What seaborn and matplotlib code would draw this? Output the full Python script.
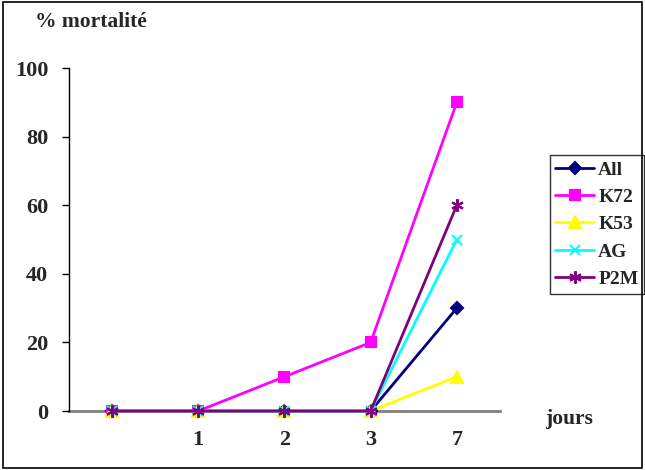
import numpy as np
import pandas as pd
import matplotlib
matplotlib.use("Agg")
import matplotlib.pyplot as plt
from matplotlib.patches import Rectangle
import seaborn as sns

# jours (first point has no label)
jours = ["", "1", "2", "3", "7"]
all_ = [0, 0, 0, 0, 30]
k72 = [0, 0, 10, 20, 90]
k53 = [0, 0, 0, 0, 10]
ag = [0, 0, 0, 0, 50]
p2m = [0, 0, 0, 0, 60]

series = {"All": all_, "K72": k72, "K53": k53, "AG": ag, "P2M": p2m}
colours = {"All": "#000080", "K72": "#FF00FF", "K53": "#FFFF00",
           "AG": "#00FFFF", "P2M": "#800080"}
markers = {"All": "D", "K72": "s", "K53": "^", "AG": "x", "P2M": (6, 2, 0)}
sizes = {"All": 6, "K72": 7, "K53": 8, "AG": 7, "P2M": 9}

rows = []
for name, vals in series.items():
    for i, v in enumerate(vals):
        rows.append([name, i, v])
df = pd.DataFrame(rows, columns=["serie", "pos", "val"])

sns.set_style("white")
plt.rcParams['font.family'] = ['Liberation Serif', 'DejaVu Serif']
plt.rcParams['font.weight'] = 'bold'

fig = plt.figure(figsize=(6.45, 4.70), dpi=100)
ax = fig.add_axes([0.107, 0.1255, 0.668, 0.7295])

for name in series:
    sub = df[df.serie == name]
    sns.lineplot(data=sub, x="pos", y="val", ax=ax, color=colours[name],
                 marker=markers[name], markersize=sizes[name],
                 markeredgecolor=colours[name], markeredgewidth=1.5,
                 linewidth=2, label=name, clip_on=False)

ax.set_xlim(-0.5, 4.5)
ax.set_ylim(0, 100)
ax.set_xticks(range(len(jours)))
ax.set_xticklabels(jours, fontsize=16, fontweight='bold')
ax.set_yticks(np.arange(0, 101, 20))
ax.set_yticklabels([str(v) for v in range(0, 101, 20)], fontsize=16, fontweight='bold')
ax.tick_params(axis='x', length=0, pad=14)
ax.tick_params(axis='y', left=True, length=5, width=1, color='black', pad=10)
ax.set_xlabel("")
ax.set_ylabel("")
for s in ["top", "right"]:
    ax.spines[s].set_visible(False)
ax.spines["left"].set_color("black")
ax.spines["left"].set_linewidth(1)
ax.spines["bottom"].set_color("#808080")
ax.spines["bottom"].set_linewidth(2)
ax.spines["bottom"].set_zorder(0)
ax.patch.set_alpha(0)

leg = ax.legend(loc="upper left", bbox_to_anchor=(0.852, 0.67),
                bbox_transform=fig.transFigure, frameon=True, fancybox=False,
                prop={'family': 'Liberation Serif', 'weight': 'bold', 'size': 14},
                handlelength=2.0, handletextpad=0.2, borderpad=0.3,
                borderaxespad=0, labelspacing=0.5)
leg.get_frame().set_edgecolor("black")
leg.get_frame().set_linewidth(1)

fig.text(0.054, 0.953, "% mortalité", fontsize=15.5, fontweight='bold', va='center')
fig.text(0.845, 0.108, "jours", fontsize=15.5, fontweight='bold', va='center')

fig.patches.append(Rectangle((0.004, 0.004), 0.992, 0.992, transform=fig.transFigure,
                             fill=False, edgecolor='black', linewidth=1.2))

fig.savefig("out.png", dpi=100)
